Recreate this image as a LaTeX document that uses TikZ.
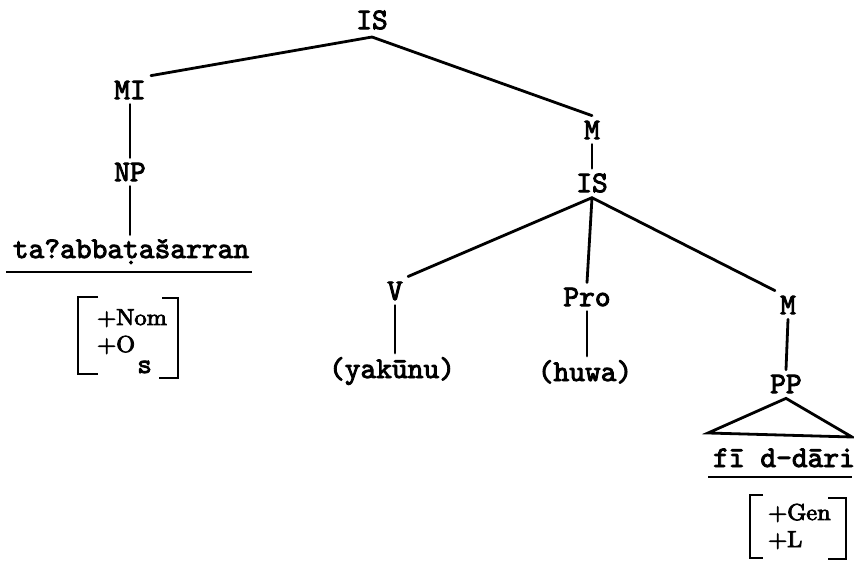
\documentclass[tikz,border=0pt]{standalone}
\usepackage{fontspec}
\newfontfamily\typew{lmmono10-regular.otf}[FakeBold=3]
\newfontfamily\featfont{lmroman10-regular.otf}[FakeBold=3.5,FakeStretch=1.06]
\begin{document}
\tikzset{
  lab/.style={font=\typew\fontsize{30}{34}\selectfont, inner sep=5pt},
  wrd/.style={font=\typew\fontsize{30}{34}\selectfont, inner sep=4pt},
  feat/.style={font=\featfont\fontsize{23}{26}\selectfont, inner sep=0pt},
  subs/.style={font=\typew\fontsize{28}{30}\selectfont, inner sep=0pt},
  edge/.style={line width=2.8pt, line cap=round},
  brk/.style={line width=2.6pt},
  uline/.style={line width=2.6pt}
}
\begin{tikzpicture}[x=1pt,y=-1pt]
\useasboundingbox (0,0) rectangle (854,561);
% nodes
\node[lab] (is1) at (372,20) {IS};
\node[lab] (mi) at (130,90) {MI};
\node[lab] (np) at (130,172) {NP};
\node[wrd, anchor=base] (w1) at (131,258) {ta?abbaṭašarran};
\node[lab] (m1) at (592,130) {M};
\node[lab] (is2) at (592,183) {IS};
\node[lab] (v) at (395,291) {V};
\node[lab] (pro) at (587,297) {Pro};
\node[lab] (m2) at (788,305) {M};
\node[wrd, anchor=base] (yak) at (392,378) {(yakūnu)};
\node[wrd, anchor=base] (huwa) at (585,381) {(huwa)};
\node[lab] (pp) at (786,384) {PP};
\node[wrd, anchor=base] (w2) at (784,467) {fī d-dāri};
% features
\node[feat, anchor=base west] (nom) at (97,325) {+Nom};
\node[feat, anchor=base west] (os) at (97,352) {+O};
\node[subs, anchor=base west] (ssub) at (137,373) {s};
\node[feat, anchor=base west] (gen) at (768,520) {+Gen};
\node[feat, anchor=base west] (loc) at (768,547) {+L};
% coordinates
\coordinate (is1b) at (372,37);
\coordinate (tl) at (708,433);
\coordinate (tr) at (852,437);
\coordinate (u1a) at (6,272);
\coordinate (u1b) at (252,272);
\coordinate (u2a) at (708,477);
\coordinate (u2b) at (852,477);
% connectors
\draw[edge] (is1b) -- (mi.north east);
\draw[edge] (is1b) -- (m1.north);
\draw[edge] (mi.south) -- (np.north);
\draw[edge] (np.south) -- (np.south |- w1.north);
\draw[edge] (m1.south) -- (is2.north);
\draw[edge] (is2.south) -- (v.north east);
\draw[edge] (is2.south) -- (pro.north);
\draw[edge] (is2.south) -- (m2.north west);
\draw[edge] (v.south) -- (v.south |- yak.north);
\draw[edge] (pro.south) -- (pro.south |- huwa.north);
\draw[edge] (m2.south) -- (pp.north);
\draw[edge, line join=miter] (pp.south) -- (tl) -- (tr) -- cycle;
% underlines
\draw[uline] (u1a) -- (u1b);
\draw[uline] (u2a) -- (u2b);
% brackets
\draw[brk] (98,297) -- (78,297) -- (78,374) -- (98,374);
\draw[brk] (162,298) -- (178,298) -- (178,378) -- (159,378);
\draw[brk] (763,495) -- (750,495) -- (750,558) -- (763,558);
\draw[brk] (828,498) -- (846,498) -- (846,559) -- (828,559);
\end{tikzpicture}
\end{document}
